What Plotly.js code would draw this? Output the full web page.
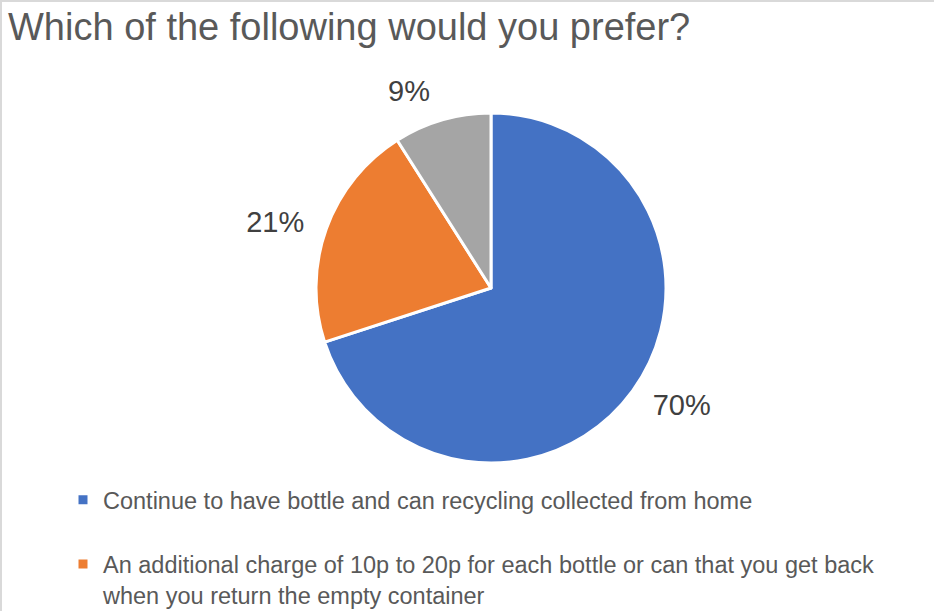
<!DOCTYPE html>
<html>
<head>
<meta charset="utf-8">
<script src="https://cdn.plot.ly/plotly-3.0.1.min.js"></script>
<style>html,body{margin:0;padding:0;background:#fff;}#chart{width:934px;height:611px;}</style>
</head>
<body>
<div id="chart"></div>
<script>
const categories = [
  "Continue to have bottle and can recycling collected from home<br>&nbsp;",
  "An additional charge of 10p to 20p for each bottle or can that you get back<br>when you return the empty container",
  "Don't know"
];
const shares = [70, 21, 9];
const colors = ["#4472C4", "#ED7D31", "#A5A5A5"];
const chartTitle = "Which of the following would you prefer?";

const W = 934, H = 611;
const FONT = "Liberation Sans, Arial, sans-serif";
// visible pie
const pieTrace = {
  type: "pie",
  labels: categories,
  values: shares,
  sort: false,
  direction: "clockwise",
  rotation: 0,
  marker: {colors: colors, line: {color: "#ffffff", width: 3}},
  textinfo: "none",
  domain: {x: [316 / W, 666 / W], y: [1 - 463 / H, 1 - 113 / H]},
  hoverinfo: "label+percent",
  automargin: false
};
// transparent, slightly larger pie used only to place the percentage labels a bit further out
const labelTrace = {
  type: "pie",
  labels: categories,
  values: shares,
  sort: false,
  direction: "clockwise",
  rotation: 0,
  showlegend: false,
  marker: {colors: ["rgba(0,0,0,0)", "rgba(0,0,0,0)", "rgba(0,0,0,0)"], line: {width: 0}},
  textinfo: "percent",
  texttemplate: "%{percent:.0%}",
  textposition: "outside",
  outsidetextfont: {family: FONT, size: 29, color: "#404040"},
  domain: {x: [301 / W, 681 / W], y: [1 - 478 / H, 1 - 98 / H]},
  hoverinfo: "skip",
  automargin: false
};
const layout = {
  width: W, height: H,
  margin: {l: 0, r: 0, t: 0, b: 0, autoexpand: false},
  paper_bgcolor: "#ffffff",
  font: {family: FONT, color: "#595959"},
  title: {
    text: chartTitle,
    font: {family: FONT, size: 38, color: "#595959"},
    xref: "paper", x: 8 / W, xanchor: "left",
    yref: "container", y: 1 - 27 / H, yanchor: "middle"
  },
  showlegend: true,
  legend: {
    x: 63 / W, xanchor: "left",
    y: 1 - 478 / H, yanchor: "top",
    valign: "top",
    font: {family: FONT, size: 23.5, color: "#595959"},
    bgcolor: "rgba(0,0,0,0)"
  },
  shapes: [{
    type: "rect", xref: "paper", yref: "paper",
    x0: 0, x1: 1.2, y0: -0.2, y1: 1,
    line: {color: "#D9D9D9", width: 4}, fillcolor: "rgba(0,0,0,0)", layer: "above"
  }]
};
Plotly.newPlot("chart", [pieTrace, labelTrace], layout, {displayModeBar: false, staticPlot: true});
</script>
</body>
</html>
